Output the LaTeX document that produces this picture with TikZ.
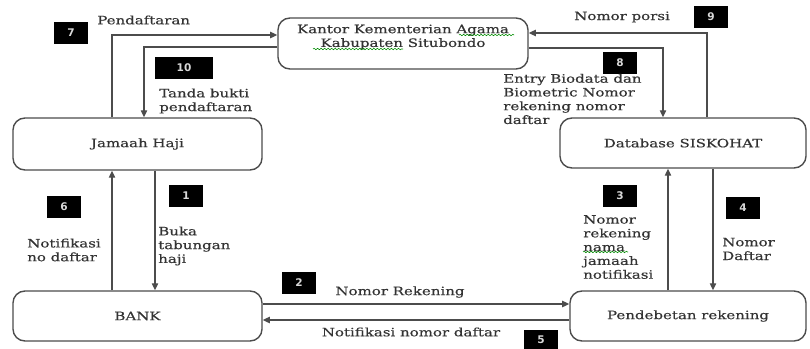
\documentclass[tikz,border=0pt]{standalone}
\usepackage{fontspec}
\setmainfont{DejaVu Serif}[FakeStretch=1.3, FakeBold=0.4]
\setsansfont{DejaVu Sans}
\usetikzlibrary{positioning,arrows.meta,decorations.pathmorphing}
\newcommand\txtsize{\fontsize{8.2}{9.8}\selectfont}

\begin{document}
\begin{tikzpicture}[x=0.025cm, y=-0.025cm,
    entity/.style={draw=black!70, line width=1pt, rounded corners=0.3cm, minimum height=1.25cm, font=\txtsize, text=black!80},
    nomor/.style={fill=black, text=white!85!black, font=\sffamily\bfseries\fontsize{7.5}{8}\selectfont, minimum width=0.85cm, minimum height=0.57cm, inner sep=0pt},
    lbl/.style={font=\txtsize, inner sep=0pt, align=left, anchor=west, text=black!80},
    flow/.style={draw=black!70, line width=0.9pt, -{Triangle[length=5pt,width=4.5pt]}},
    typo/.style={draw=green!55!black, line width=0.4pt, decorate, decoration={snake, amplitude=0.5pt, segment length=2.5pt}}]
    \useasboundingbox (0,0) rectangle (810,349);

    % Entitas
    \node[entity, minimum width=6.25cm, minimum height=1.275cm] (kantor) at (403,43.5) {};
    \node[lbl, anchor=center, align=center] (kantortxt) at (403,37) {Kantor Kementerian Agama\\Kabupaten Situbondo};
    \node[entity, minimum width=6.225cm, minimum height=1.3cm] (jamaah) at (137.5,144) {Jamaah Haji};
    \node[entity, minimum width=6.225cm] (bank) at (137.5,316) {BANK};
    \node[entity, minimum width=6.15cm] (db) at (683,143) {Database SISKOHAT};
    \node[entity, minimum width=5.9cm] (debet) at (688,316) {Pendebetan rekening};

    % Nomor urut
    \node[nomor] (n1) at (186,196) {1};
    \node[nomor] (n2) at (299,283) {2};
    \node[nomor] (n3) at (620,196) {3};
    \node[nomor] (n4) at (743,208) {4};
    \node[nomor, minimum height=0.48cm] (n5) at (541,340) {5};
    \node[nomor] (n6) at (64,207) {6};
    \node[nomor] (n7) at (71,33) {7};
    \node[nomor] (n8) at (620,63) {8};
    \node[nomor] (n9) at (711,17) {9};
    \node[nomor, minimum width=1.45cm] (n10) at (184,68) {10};

    % Keterangan
    \node[lbl] (t7) at (97,20) {Pendaftaran};
    \node[lbl] (t10) at (159,101) {Tanda bukti\\pendaftaran};
    \node[lbl] (t9) at (574,17) {Nomor porsi};
    \node[lbl] (t8) at (503,99) {Entry Biodata dan\\Biometric Nomor\\rekening nomor\\daftar};
    \node[lbl] (t1) at (158,246) {Buka\\tabungan\\haji};
    \node[lbl] (t6) at (27,250) {Notifikasi\\no daftar};
    \node[lbl] (t3) at (583,247) {Nomor\\rekening\\nama\\jamaah\\notifikasi};
    \node[lbl] (t4) at (722,249) {Nomor\\Daftar};
    \node[lbl, anchor=center] (t2) at (400,292) {Nomor Rekening};
    \node[lbl, anchor=center] (t5) at (411,332) {Notifikasi nomor daftar};

    % Aliran
    \draw[flow] (jamaah.north -| 112,0) |- (kantor.west |- 0,35);
    \draw[flow] (kantor.west |- 0,47) -| (jamaah.north -| 144,0);
    \draw[flow] (db.north -| 707,0) |- (kantor.east |- 0,33);
    \draw[flow] (kantor.east |- 0,48) -| (db.north -| 663,0);
    \draw[flow] (jamaah.south -| 155,0) -- (bank.north -| 155,0);
    \draw[flow] (bank.north -| 112,0) -- (jamaah.south -| 112,0);
    \draw[flow] (debet.north -| 668,0) -- (db.south -| 668,0);
    \draw[flow] (db.south -| 713,0) -- (debet.north -| 713,0);
    \draw[flow] (bank.east |- 0,304) -- (debet.west |- 0,304);
    \draw[flow] (debet.west |- 0,320) -- (bank.east |- 0,320);

    % garis ejaan
    \draw[typo] (459,35) -- (514,35);
    \draw[typo] (313,49) -- (403,49);
    \draw[typo] (583,252) -- (628,252);

\end{tikzpicture}
\end{document}
